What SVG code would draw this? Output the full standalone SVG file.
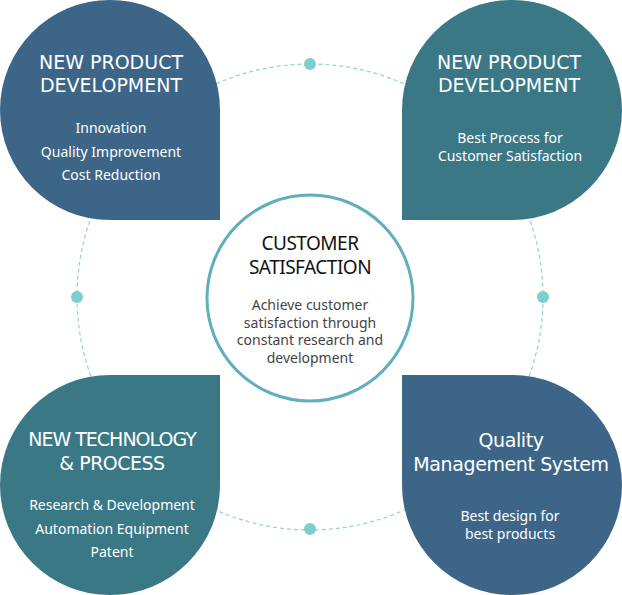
<svg xmlns="http://www.w3.org/2000/svg" width="622" height="595" viewBox="0 0 622 595">
<style>
.blue{fill:#3c6588}
.teal{fill:#3b7886}
.t{font-family:"Noto Sans","Open Sans",sans-serif;fill:#fff;text-anchor:middle}
.h{font-family:"DejaVu Sans","Noto Sans",sans-serif;font-size:19px}
.s{font-size:14px}
.c{font-family:"Noto Sans","Open Sans",sans-serif;text-anchor:middle}
.dot{fill:#7dcfc9}
</style>
<rect width="622" height="595" fill="#fff"/>
<g id="connectors">
<circle cx="310" cy="297" r="233" fill="none" stroke="#8ed5d1" stroke-width="1.2" stroke-dasharray="4 3"/>
<circle class="dot" cx="310" cy="64" r="6"/>
<circle class="dot" cx="77" cy="297" r="6"/>
<circle class="dot" cx="543" cy="297" r="6"/>
<circle class="dot" cx="310" cy="529" r="6"/>
</g>
<g id="node-top-left">
<path class="blue" d="M0,110 A110,110 0 0 1 110,0 A110,110 0 0 1 220,110 L220,220 L110,220 A110,110 0 0 1 0,110 Z"/>
<text class="t h" x="111" y="69">NEW PRODUCT<tspan x="111" dy="23">DEVELOPMENT</tspan></text>
<text class="t s" x="111" y="133">Innovation<tspan x="111" dy="24">Quality Improvement</tspan><tspan x="111" dy="23">Cost Reduction</tspan></text>
</g>
<g id="node-top-right">
<path class="teal" d="M402,220 L402,110 A110,110 0 0 1 512,0 A110,110 0 0 1 622,110 A110,110 0 0 1 512,220 Z"/>
<text class="t h" x="509" y="69">NEW PRODUCT<tspan x="509" dy="23">DEVELOPMENT</tspan></text>
<text class="t s" x="510" y="143">Best Process for<tspan x="510" dy="18">Customer Satisfaction</tspan></text>
</g>
<g id="node-bottom-left">
<path class="teal" d="M0,485 A110,110 0 0 1 110,375 L220,375 L220,485 A110,110 0 0 1 110,595 A110,110 0 0 1 0,485 Z"/>
<text class="t h" x="112" y="446" letter-spacing="-1">NEW TECHNOLOGY<tspan x="112" dy="24" letter-spacing="-0.5">&amp; PROCESS</tspan></text>
<text class="t s" x="112" y="510">Research &amp; Development<tspan x="112" dy="24">Automation Equipment</tspan><tspan x="112" dy="23">Patent</tspan></text>
</g>
<g id="node-bottom-right">
<path class="blue" d="M402,375 L512,375 A110,110 0 0 1 622,485 A110,110 0 0 1 512,595 A110,110 0 0 1 402,485 Z"/>
<text class="t h" x="511" y="447" letter-spacing="-0.4">Quality<tspan x="511" dy="24">Management System</tspan></text>
<text class="t s" x="510" y="520.5">Best design for<tspan x="510" dy="18.5">best products</tspan></text>
</g>
<g id="node-center">
<circle cx="310" cy="298" r="103" fill="#fff" stroke="#62aebd" stroke-width="3"/>
<text class="c h" x="310" y="250" fill="#111" letter-spacing="-0.5">CUSTOMER<tspan x="310" dy="24">SATISFACTION</tspan></text>
<text class="c" x="310" y="310" font-size="14" fill="#444">Achieve customer<tspan x="310" dy="17.5">satisfaction through</tspan><tspan x="310" dy="17.5">constant research and</tspan><tspan x="310" dy="17.5">development</tspan></text>
</g>
</svg>
